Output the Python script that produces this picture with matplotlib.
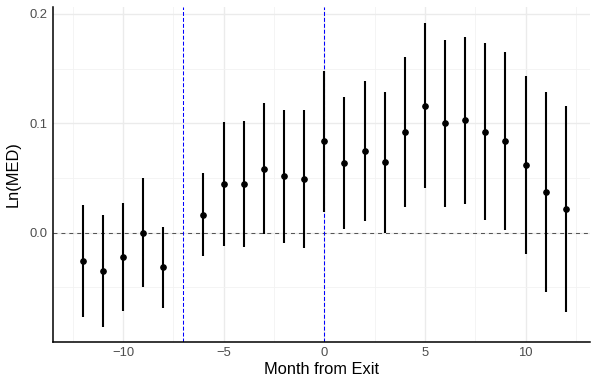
import matplotlib
matplotlib.use("Agg")
import matplotlib.pyplot as plt
from matplotlib.ticker import MultipleLocator, FixedLocator

plt.rcParams['font.family'] = ['Liberation Sans', 'DejaVu Sans']

months = [-12, -11, -10, -9, -8, -6, -5, -4, -3, -2, -1, 0, 1, 2, 3, 4, 5, 6, 7, 8, 9, 10, 11, 12]
estimate = [-0.0256, -0.0348, -0.0220, 0.0000, -0.0317, 0.0165, 0.0448, 0.0446, 0.0586, 0.0516,
            0.0494, 0.0842, 0.0635, 0.0745, 0.0644, 0.0921, 0.1162, 0.1001, 0.1028, 0.0924,
            0.0842, 0.0619, 0.0375, 0.0220]
ci_low = [-0.0769, -0.0860, -0.0716, -0.0500, -0.0686, -0.0216, -0.0119, -0.0134, -0.0012, -0.0091,
          -0.0140, 0.0192, 0.0031, 0.0104, 0.0000, 0.0238, 0.0406, 0.0238, 0.0265, 0.0113,
          0.0027, -0.0198, -0.0540, -0.0723]
ci_high = [0.0253, 0.0162, 0.0274, 0.0498, 0.0052, 0.0543, 0.1010, 0.1020, 0.1184, 0.1123,
           0.1123, 0.1480, 0.1239, 0.1385, 0.1285, 0.1607, 0.1921, 0.1766, 0.1790, 0.1733,
           0.1650, 0.1434, 0.1287, 0.1162]
vlines_x = [-7, 0]

W, H = 592, 380
fig = plt.figure(figsize=(W / 100, H / 100), dpi=100)
ax = fig.add_axes([52.7 / W, 1 - 341.7 / H, (590 - 52.7) / W, (341.7 - 7) / H])

ax.set_xlim(-13.49, 13.2)
ax.set_ylim(-0.0997, 0.2064)

ax.xaxis.set_major_locator(FixedLocator([-10, -5, 0, 5, 10]))
ax.xaxis.set_minor_locator(FixedLocator([-12.5, -7.5, -2.5, 2.5, 7.5, 12.5]))
ax.yaxis.set_major_locator(FixedLocator([0.0, 0.1, 0.2]))
ax.yaxis.set_minor_locator(FixedLocator([-0.05, 0.05, 0.15]))
ax.set_xticklabels(['\u221210', '\u22125', '0', '5', '10'])
ax.set_yticklabels(['0.0', '0.1', '0.2'])

ax.grid(which='major', color='#EBEBEB', linewidth=1.0, zorder=0)
ax.grid(which='minor', color='#F2F2F2', linewidth=0.6, zorder=0)
ax.set_axisbelow(True)

ax.tick_params(which='both', length=0, labelsize=9.4, labelcolor='#4D4D4D', pad=4)

for s in ['top', 'right']:
    ax.spines[s].set_visible(False)
for s in ['left', 'bottom']:
    ax.spines[s].set_color('black')
    ax.spines[s].set_linewidth(1.1)

ax.axhline(0, color='#555555', linewidth=0.75, dashes=(3.8, 3.8), zorder=1)
for xv in vlines_x:
    ax.axvline(xv, color='#0000FF', linewidth=0.75, dashes=(3.8, 1.9), zorder=1)

for m, e, lo, hi in zip(months, estimate, ci_low, ci_high):
    ax.plot([m, m], [lo, hi], color='black', linewidth=1.5, solid_capstyle='butt', zorder=2)
ax.plot(months, estimate, 'o', color='black', markersize=3.8, zorder=3)

ax.set_xlabel('Month from Exit', fontsize=11.8, color='black', labelpad=2)
ax.set_ylabel('Ln(MED)', fontsize=11.8, color='black', labelpad=6)

fig.savefig('out.png', dpi=100)
